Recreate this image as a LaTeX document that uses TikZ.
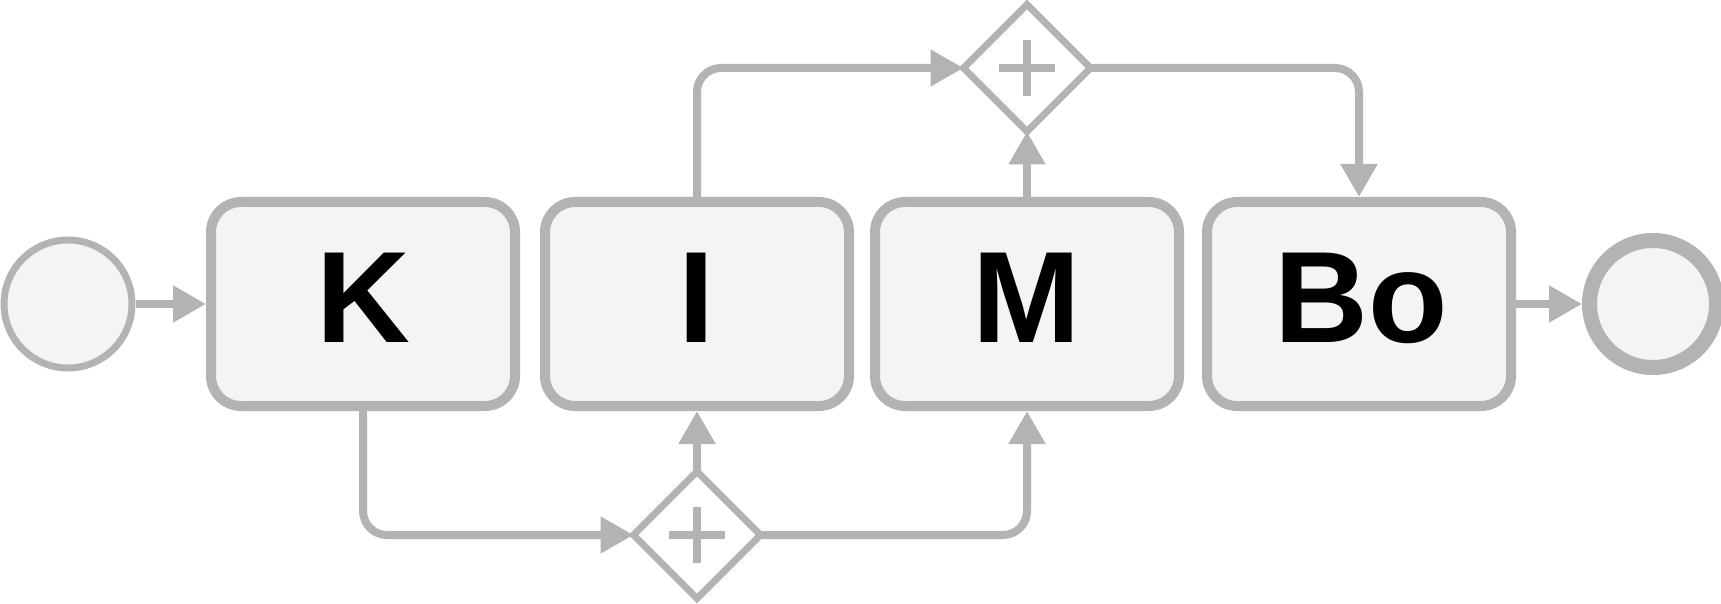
\documentclass[tikz,border=0pt]{standalone}
\usepackage{fontspec}
\setmainfont{Liberation Sans}
\usetikzlibrary{arrows.meta,shapes.geometric}
\definecolor{bgrey}{HTML}{B3B3B3}
\definecolor{bfill}{HTML}{F4F4F4}
\tikzset{
  task/.style={draw=bgrey, fill=bfill, line width=10pt, rounded corners=30pt,
    minimum width=304pt, minimum height=204pt, inner sep=0pt, text=black},
  gate/.style={diamond, aspect=1, draw=bgrey, fill=white, line width=7pt,
    minimum width=127pt, minimum height=127pt, inner sep=0pt, outer sep=0pt},
  conn/.style={draw=bgrey, line width=8pt, rounded corners=24pt,
    -{Triangle[length=33pt,width=35pt]}},
  plusline/.style={draw=bgrey, line width=8pt},
  lbl/.style={font=\fontsize{130}{130}\selectfont\bfseries, inner sep=0pt, anchor=base}
}
\begin{document}
\begin{tikzpicture}[x=1pt,y=-1pt]
\useasboundingbox (0,0) rectangle (1721,604);
% events
\node[circle, draw=bgrey, fill=bfill, line width=7pt, minimum size=128pt, inner sep=0pt] (start) at (68,304) {};
\node[circle, draw=bgrey, fill=bfill, line width=15pt, minimum size=127pt, inner sep=0pt] (end) at (1653,304) {};
% tasks
\node[task] (K) at (363,304) {};
\node[task] (I) at (697,304) {};
\node[task] (M) at (1027,304) {};
\node[task] (Bo) at (1359,304) {};
\node[lbl] (tK) at (363,342) {K};
\node[lbl] (tI) at (697,342) {I};
\node[lbl] (tM) at (1027,342) {M};
\node[lbl] (tBo) at (1361,342) {Bo};
% gateways
\node[gate] (g1) at (1027,68) {};
\node[gate] (g2) at (697,535) {};
\draw[plusline] (g1.center) ++(-28,0) -- ++(56,0);
\draw[plusline] (g1.center) ++(0,-28) -- ++(0,56);
\draw[plusline] (g2.center) ++(-28,0) -- ++(56,0);
\draw[plusline] (g2.center) ++(0,-28) -- ++(0,56);
% connectors
\draw[conn] (start) -- (K);
\draw[conn] (K.south) |- (g2.west);
\draw[conn] (g2.north) -- (I.south);
\draw[conn] (g2.east) -| (M.south);
\draw[conn] (I.north) |- (g1.west);
\draw[conn] (M.north) -- (g1.south);
\draw[conn] (g1.east) -| (Bo.north);
\draw[conn] (Bo) -- (end);
\end{tikzpicture}
\end{document}
